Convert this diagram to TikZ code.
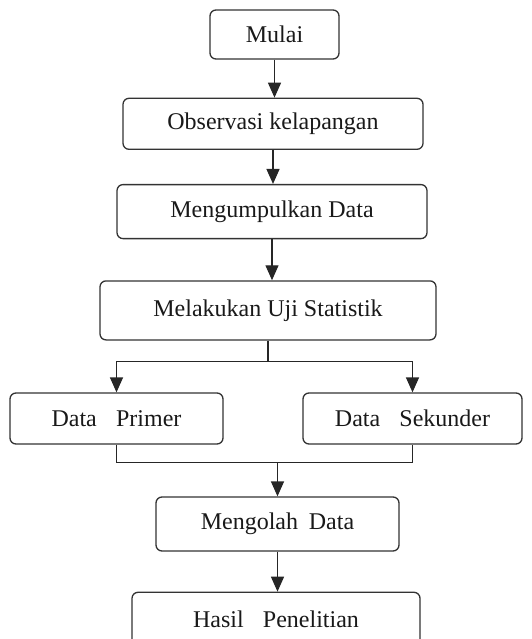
\documentclass[tikz,border=0pt]{standalone}
\usepackage{fontspec}
\setmainfont{Liberation Serif}
\usetikzlibrary{arrows.meta,positioning}

\tikzset{
  box/.style={draw=black!80, line width=1.3pt, rounded corners=6pt,
    font=\fontsize{24}{28}\selectfont, text=black!90, inner sep=0pt},
  arr/.style={draw=black!85, line width=1.4pt, -{Triangle[width=13pt,length=15pt]}},
  line/.style={draw=black!85, line width=1.4pt}
}

\begin{document}
\begin{tikzpicture}[x=1pt, y=1pt]
        \clip (0,0) rectangle (532,-639);
        \node[box, minimum width=129pt, minimum height=49pt] (mulai) at (274.5,-34.5) {Mulai};
        \node[box, minimum width=300pt, minimum height=51pt] (observasi) [below=38pt of mulai, xshift=-1.5pt] {Observasi kelapangan};
        \node[box, minimum width=310pt, minimum height=54pt] (kumpul) [below=34pt of observasi, xshift=-1pt] {Mengumpulkan Data};
        \node[box, minimum width=336pt, minimum height=59pt] (uji) [below=41pt of kumpul, xshift=-4pt] {Melakukan Uji Statistik};
        \node[box, minimum width=213pt, minimum height=51pt] (primer) at (116.5,-418.5) {Data\hspace{.8em}Primer};
        \node[box, minimum width=219pt, minimum height=51pt] (sekunder) at (412.5,-418.5) {Data\hspace{.8em}Sekunder};
        \node[box, minimum width=243pt, minimum height=54pt] (olah) at (277.5,-524) {Mengolah\hspace{.45em}Data};
        \node[box, minimum width=288pt, minimum height=54pt] (hasil) [below=40pt of olah, xshift=-1.5pt] {Hasil\hspace{.8em}Penelitian};

        \draw [arr] (mulai.south) -- (mulai.south |- observasi.north);
        \draw [arr] (observasi.south) -- (observasi.south |- kumpul.north);
        \draw [arr] (kumpul.south) -- (kumpul.south |- uji.north);

        % percabangan ke dua jenis data
        \coordinate (split) at ([yshift=-21pt]uji.south);
        \draw [line] (uji.south) -- (split);
        \draw [arr] (split) -| (primer.north);
        \draw [arr] (split) -| (sekunder.north);

        % penggabungan
        \coordinate (merge) at ([yshift=-18pt]primer.south -| olah.north);
        \draw [line] (primer.south) |- (merge) -| (sekunder.south);
        \draw [arr] (merge) -- (olah.north);
        \draw [arr] (olah.south) -- (olah.south |- hasil.north);
\end{tikzpicture}
\end{document}
